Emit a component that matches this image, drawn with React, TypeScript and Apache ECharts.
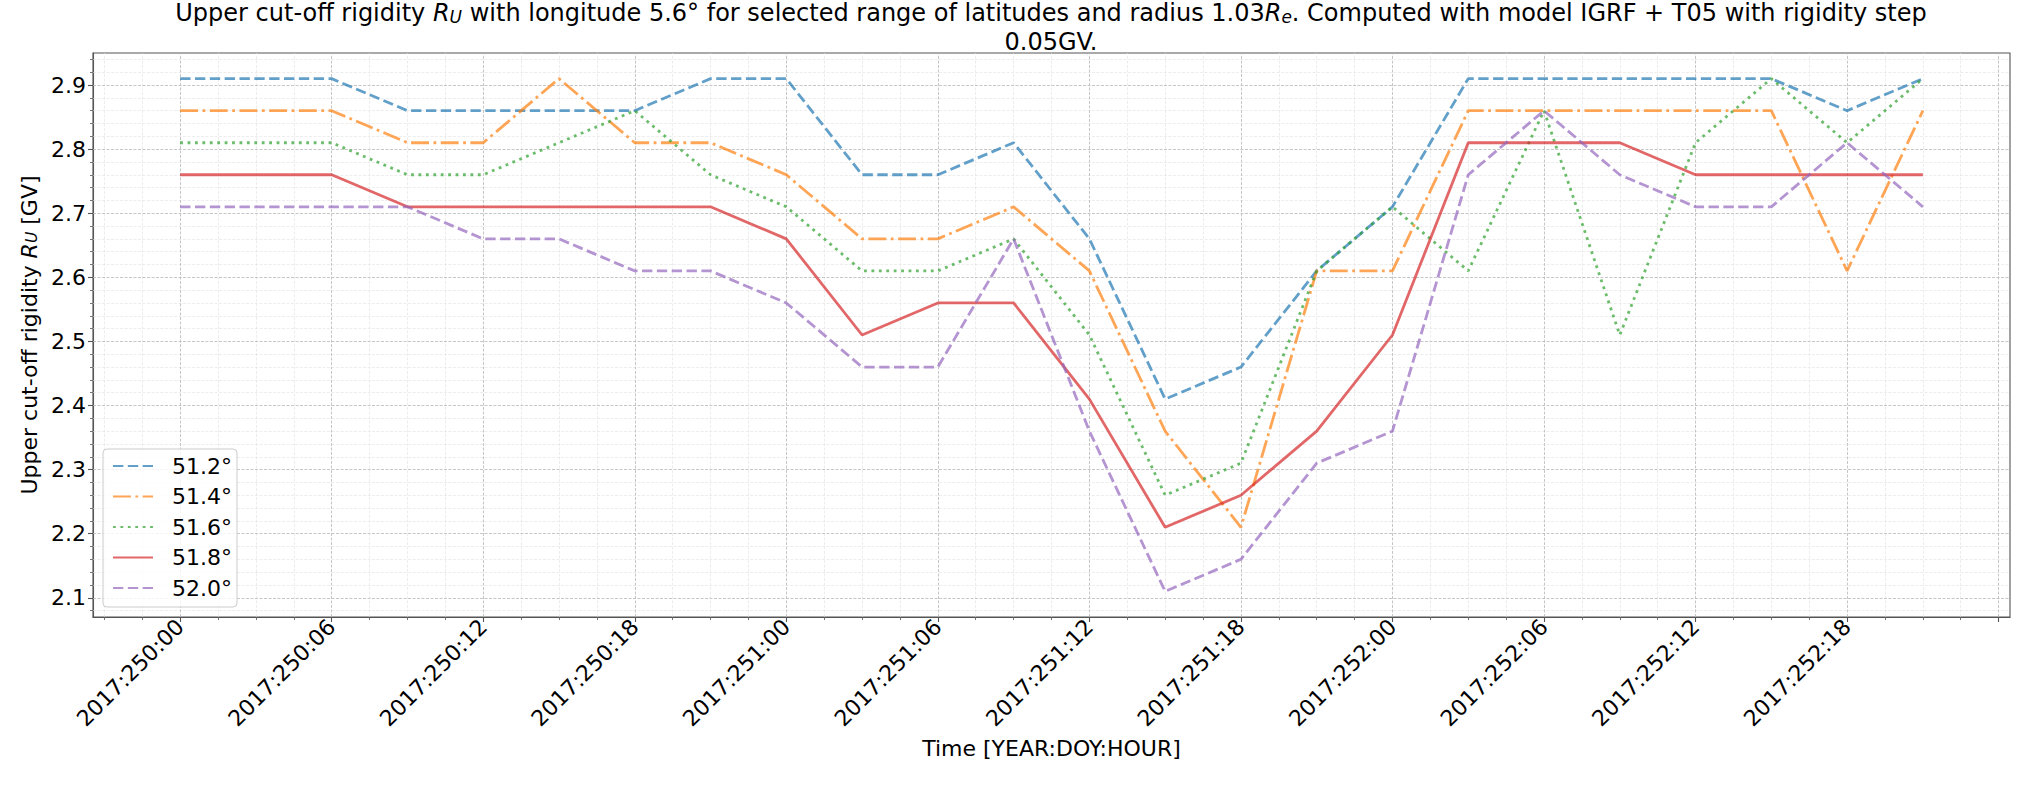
import React, { useEffect, useRef } from 'react';
import * as echarts from 'echarts';

// Time points (hours since 2017:250:00), 3-hour step
const timeHours = [0, 3, 6, 9, 12, 15, 18, 21, 24, 27, 30, 33, 36, 39, 42, 45, 48, 51, 54, 57, 60, 63, 66, 69];

// Upper cut-off rigidity R_U [GV] per latitude
const lat512 = [2.91, 2.91, 2.91, 2.86, 2.86, 2.86, 2.86, 2.91, 2.91, 2.76, 2.76, 2.81, 2.66, 2.41, 2.46, 2.61, 2.71, 2.91, 2.91, 2.91, 2.91, 2.91, 2.86, 2.91];
const lat514 = [2.86, 2.86, 2.86, 2.81, 2.81, 2.91, 2.81, 2.81, 2.76, 2.66, 2.66, 2.71, 2.61, 2.36, 2.21, 2.61, 2.61, 2.86, 2.86, 2.86, 2.86, 2.86, 2.61, 2.86];
const lat516 = [2.81, 2.81, 2.81, 2.76, 2.76, 2.81, 2.86, 2.76, 2.71, 2.61, 2.61, 2.66, 2.51, 2.26, 2.31, 2.61, 2.71, 2.61, 2.86, 2.51, 2.81, 2.91, 2.81, 2.91];
const lat518 = [2.76, 2.76, 2.76, 2.71, 2.71, 2.71, 2.71, 2.71, 2.66, 2.51, 2.56, 2.56, 2.41, 2.21, 2.26, 2.36, 2.51, 2.81, 2.81, 2.81, 2.76, 2.76, 2.76, 2.76];
const lat520 = [2.71, 2.71, 2.71, 2.71, 2.66, 2.66, 2.61, 2.61, 2.56, 2.46, 2.46, 2.66, 2.36, 2.11, 2.16, 2.31, 2.36, 2.76, 2.86, 2.76, 2.71, 2.71, 2.81, 2.71];

const seriesNames = ['51.2°', '51.4°', '51.6°', '51.8°', '52.0°'];
const seriesValues = [lat512, lat514, lat516, lat518, lat520];

// Tick labels
const xTickHours = [0, 6, 12, 18, 24, 30, 36, 42, 48, 54, 60, 66, 72];
const xTickLabels = ['2017:250:00', '2017:250:06', '2017:250:12', '2017:250:18', '2017:251:00', '2017:251:06', '2017:251:12', '2017:251:18', '2017:252:00', '2017:252:06', '2017:252:12', '2017:252:18', ''];
const yTickValues = [2.1, 2.2, 2.3, 2.4, 2.5, 2.6, 2.7, 2.8, 2.9];

// Styles
const colors = ['#1f77b4', '#ff7f0e', '#2ca02c', '#d62728', '#9467bd'];
const LW = 2.8;
const dashes: any[] = [
  [3.7 * LW, 1.6 * LW],
  [6.4 * LW, 1.6 * LW, 1 * LW, 1.6 * LW],
  [1 * LW, 1.65 * LW],
  'solid',
  [3.7 * LW, 1.6 * LW],
];
const FONT = 'DejaVu Sans';

const X_MIN = -3.45;
const X_MAX = 72.45;
const Y_MIN = 2.07;
const Y_MAX = 2.95;

const xMinor: number[] = [];
for (let i = -2; i <= 48; i++) {
  if (i % 4 !== 0) xMinor.push(i * 1.5);
}
const yMinor: number[] = [];
for (let i = 104; i <= 147; i++) {
  if (i % 5 !== 0) yMinor.push(Math.round(i * 2) / 100);
}

export default function App() {
  const ref = useRef<HTMLDivElement>(null);
  useEffect(() => {
    if (!ref.current) return;
    const chart = echarts.init(ref.current, undefined, { renderer: 'svg' });

    const majorGrid = { color: '#b8b8b8', width: 0.8, type: [3, 1.5], opacity: 1 };
    const minorGrid = { color: '#e0e0e0', width: 0.6, type: [3, 1.5], opacity: 1 };

    const gridLines: any[] = [];
    xMinor.forEach((v) => gridLines.push({ xAxis: v, lineStyle: minorGrid }));
    yMinor.forEach((v) => gridLines.push({ yAxis: v, lineStyle: minorGrid }));
    xTickHours.forEach((v) => gridLines.push({ xAxis: v, lineStyle: majorGrid }));
    yTickValues.forEach((v) => gridLines.push({ yAxis: v, lineStyle: majorGrid }));

    const richTitle = {
      i: { fontStyle: 'italic', fontSize: 24, fontFamily: FONT, color: '#000' },
      s: { fontStyle: 'italic', fontSize: 17, fontFamily: FONT, verticalAlign: 'bottom', lineHeight: 18, color: '#000' },
    };
    const richLabel = {
      i: { fontStyle: 'italic', fontSize: 22, fontFamily: FONT, color: '#000' },
      s: { fontStyle: 'italic', fontSize: 15.5, fontFamily: FONT, verticalAlign: 'bottom', lineHeight: 16, color: '#000' },
    };

    const option: any = {
      animation: false,
      backgroundColor: '#ffffff',
      textStyle: { fontFamily: FONT },
      grid: {
        left: 93,
        right: 25,
        top: 53,
        bottom: 168,
        show: true,
        borderColor: '#555555',
        borderWidth: 1.1,
        containLabel: false,
      },
      graphic: [
        {
          type: 'text',
          x: 1051,
          y: 13,
          style: {
            text: 'Upper cut-off rigidity {i|R}{s|U} with longitude 5.6° for selected range of latitudes and radius 1.03{i|R}{s|e}. Computed with model IGRF + T05 with rigidity step',
            rich: richTitle,
            fill: '#000',
            fontSize: 24,
            fontFamily: FONT,
            align: 'center',
            verticalAlign: 'middle',
          },
        },
        {
          type: 'text',
          x: 1051,
          y: 42,
          style: {
            text: '0.05GV.',
            fill: '#000',
            fontSize: 24,
            fontFamily: FONT,
            align: 'center',
            verticalAlign: 'middle',
          },
        },
      ],
      legend: {
        data: seriesNames,
        orient: 'vertical',
        left: 103,
        top: 449,
        padding: [5, 5, 7, 9],
        itemWidth: 40,
        itemHeight: 12,
        itemGap: 6.5,
        backgroundColor: 'rgba(255,255,255,0.8)',
        borderColor: '#cccccc',
        borderWidth: 1,
        borderRadius: 4,
        itemStyle: { opacity: 0 },
        textStyle: { fontSize: 22, fontFamily: FONT, color: '#000', lineHeight: 24, padding: [0, 0, 0, 14] },
      },
      xAxis: [
        {
          type: 'value',
          min: X_MIN,
          max: X_MAX,
          position: 'bottom',
          name: 'Time [YEAR:DOY:HOUR]',
          nameLocation: 'middle',
          nameGap: 120,
          nameTextStyle: { fontSize: 22, fontFamily: FONT, color: '#000' },
          axisLine: { show: true, onZero: false, lineStyle: { color: '#555555', width: 1.1 } },
          axisTick: { show: true, customValues: xTickHours, length: 5, lineStyle: { color: '#555555', width: 1.1 } },
          axisLabel: {
            customValues: xTickHours.slice(0, xTickHours.length - 1),
            rotate: 45,
            margin: 6,
            fontSize: 22,
            fontFamily: FONT,
            color: '#000',
            formatter: (v: number) => {
              const idx = xTickHours.indexOf(Math.round(v));
              return idx >= 0 ? xTickLabels[idx] : '';
            },
          },
          splitLine: { show: false },
        },
        {
          type: 'value',
          min: X_MIN,
          max: X_MAX,
          position: 'bottom',
          axisLine: { show: false, onZero: false },
          axisTick: { show: true, customValues: xMinor, length: 3, lineStyle: { color: '#555555', width: 0.8 } },
          axisLabel: { show: false },
          splitLine: { show: false },
        },
      ],
      yAxis: [
        {
          type: 'value',
          min: Y_MIN,
          max: Y_MAX,
          position: 'left',
          name: 'Upper cut-off rigidity {i|R}{s|U} [GV]',
          nameLocation: 'middle',
          nameRotate: 90,
          nameGap: 47,
          nameTextStyle: { fontSize: 22, fontFamily: FONT, color: '#000', rich: richLabel },
          axisLine: { show: true, onZero: false, lineStyle: { color: '#555555', width: 1.1 } },
          axisTick: { show: true, customValues: yTickValues, length: 5, lineStyle: { color: '#555555', width: 1.1 } },
          axisLabel: {
            customValues: yTickValues,
            margin: 7,
            fontSize: 22,
            fontFamily: FONT,
            color: '#000',
            formatter: (v: number) => v.toFixed(1),
          },
          splitLine: { show: false },
        },
        {
          type: 'value',
          min: Y_MIN,
          max: Y_MAX,
          position: 'left',
          axisLine: { show: false, onZero: false },
          axisTick: { show: true, customValues: yMinor, length: 3, lineStyle: { color: '#555555', width: 0.8 } },
          axisLabel: { show: false },
          splitLine: { show: false },
        },
      ],
      series: [
        {
          name: 'grid',
          type: 'line',
          data: [],
          z: 1,
          silent: true,
          markLine: {
            silent: true,
            symbol: ['none', 'none'],
            label: { show: false },
            emphasis: { disabled: true },
            animation: false,
            z: 1,
            data: gridLines,
          },
        },
        ...seriesNames.map((name, i) => ({
          name,
          type: 'line',
          z: 10,
          symbol: 'none',
          showSymbol: false,
          silent: true,
          data: timeHours.map((h, k) => [h, seriesValues[i][k]]),
          lineStyle: { color: colors[i], width: LW, type: dashes[i], opacity: 0.7, cap: 'butt' },
          itemStyle: { color: colors[i], opacity: 0.7 },
        })),
      ],
    };

    chart.setOption(option);
    return () => chart.dispose();
  }, []);

  return <div ref={ref} style={{ position: 'fixed', left: 0, top: 0, width: 2035, height: 785 }} />;
}
